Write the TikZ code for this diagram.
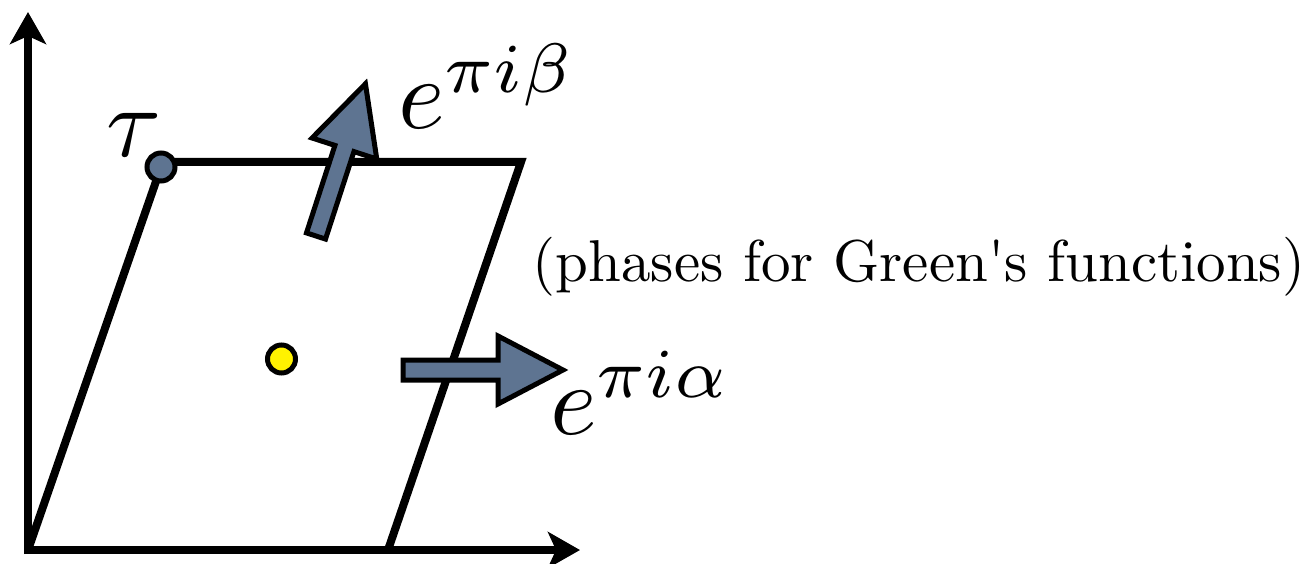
\documentclass[tikz,border=0pt]{standalone}
\usetikzlibrary{arrows.meta}
\definecolor{slate}{RGB}{94,116,145}
\begin{document}
\begin{tikzpicture}[x=1pt,y=-1pt,
  axisline/.style={line width=8pt, -{Stealth[length=32pt,width=36pt,inset=8pt]}},
  edgeline/.style={line width=8pt},
  fatarrow/.style={fill=slate, draw=black, line width=5pt, miter limit=10},
  dotnode/.style={circle, draw=black, line width=5pt, minimum size=28pt, inner sep=0pt},
  bigmath/.style={inner sep=0pt, font=\fontsize{10}{12}\selectfont, scale=10},
  notetext/.style={inner sep=0pt, font=\fontsize{10}{12}\selectfont, scale=5.9}]
\useasboundingbox (0,0) rectangle (1315,564);
% key points
\coordinate (O) at (28,550);
\coordinate (Obot) at (28,554);
\coordinate (Oleft) at (24,550);
\coordinate (Ytip) at (28,12);
\coordinate (Xtip) at (580,550);
\coordinate (A) at (161,167);
\coordinate (Atop) at (161,162);
\coordinate (C) at (521,162);
\coordinate (B) at (388,550);
% axes
\draw[axisline] (Obot) -- (Ytip);
\draw[axisline] (Oleft) -- (Xtip);
% parallelogram
\draw[edgeline] (O) -- (A);
\draw[edgeline, line join=miter] (Atop) -- (C) -- (B);
% dots
\node[dotnode, fill=slate] (tau) at (A) {};
\node[dotnode, fill=yellow] (center) at (281.5,359) {};
% fat arrows
\begin{scope}[shift={(316,236)}, rotate=72]
  \draw[fatarrow] (0,-10) -- (92,-10) -- (92,-34) -- (160,0) -- (92,34) -- (92,10) -- (0,10) -- cycle;
\end{scope}
\begin{scope}[shift={(403,370)}]
  \draw[fatarrow] (0,-10) -- (95,-10) -- (95,-34) -- (160,0) -- (95,34) -- (95,10) -- (0,10) -- cycle;
\end{scope}
% labels
\node[bigmath, anchor=base west] (taulabel) at (104,157) {$\tau$};
\node[bigmath, anchor=base west] (betalabel) at (396,129) {$e^{\pi i\beta}$};
\node[bigmath, anchor=base west] (alphalabel) at (548,434) {$e^{\pi i\alpha}$};
\node[notetext, anchor=base] (phases) at (919,282) {(phases for Green\textquotesingle s functions)};
\end{tikzpicture}
\end{document}
